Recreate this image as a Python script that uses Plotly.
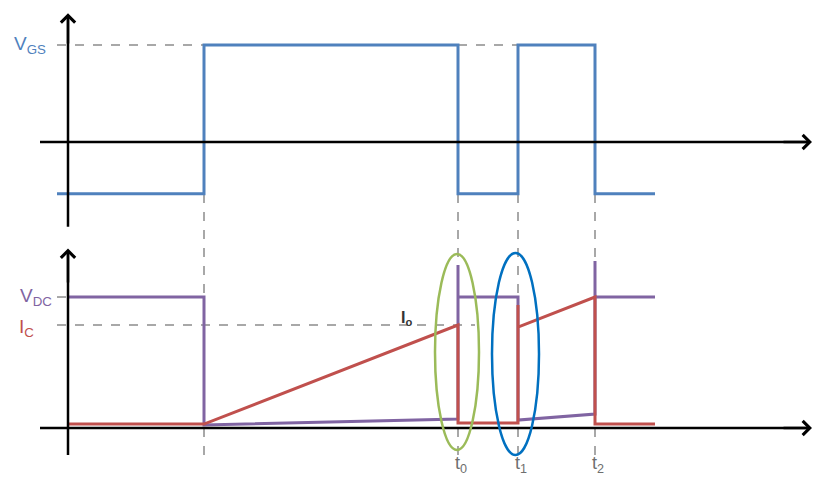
import plotly.graph_objects as go

# time in arbitrary units (0 = vertical axis)
t_start = -0.11
t_on = 1.36
t0 = 3.90
t1 = 4.50
t2 = 5.27
t_end = 5.87
axis_left = -0.28
axis_right = 7.44

# gate voltage (V)
vgs_high = 15
vgs_low = -8
vgs_t = [t_start, t_on, t_on, t0, t0, t1, t1, t2, t2, t_end]
vgs_v = [vgs_low, vgs_low, vgs_high, vgs_high, vgs_low, vgs_low, vgs_high, vgs_high, vgs_low, vgs_low]

# collector-emitter voltage and collector current, per unit of V_DC
vdc = 1.0
io = 0.786
vce_t = [0, t_on, t_on, t0, t0, t0, t1, t1, t2, t2, t2, t_end]
vce_v = [vdc, vdc, 0.023, 0.069, 1.244, vdc, vdc, 0.061, 0.107, 1.275, vdc, vdc]
ic_t = [0, t_on, t0, t0, t1, t1, t1, t2, t2, t_end]
ic_v = [0.03, 0.03, io, 0.038, 0.038, 0.94, 0.77, vdc, 0.03, 0.03]

time_marks = [t_on, t0, t1, t2]
time_labels = ["", "t<sub>0</sub>", "t<sub>1</sub>", "t<sub>2</sub>"]

BLUE = "#4F81BD"
PURPLE = "#8064A2"
RED = "#C0504D"
GREY = "#8C8C8C"

fig = go.Figure()

fig.add_trace(go.Scatter(x=vgs_t, y=vgs_v, mode="lines", yaxis="y",
                         line=dict(color=BLUE, width=3)))
fig.add_trace(go.Scatter(x=vce_t, y=vce_v, mode="lines", yaxis="y2",
                         line=dict(color=PURPLE, width=3)))
fig.add_trace(go.Scatter(x=ic_t, y=ic_v, mode="lines", yaxis="y2",
                         line=dict(color=RED, width=3)))

shapes = []
# dashed reference levels
dash = dict(color=GREY, width=1.5, dash="dash")
shapes.append(dict(type="line", xref="x", yref="y", x0=t_start, x1=t_on,
                   y0=vgs_high, y1=vgs_high, line=dash, layer="below"))
shapes.append(dict(type="line", xref="x", yref="y", x0=t0, x1=t1,
                   y0=vgs_high, y1=vgs_high, line=dash, layer="below"))
shapes.append(dict(type="line", xref="x", yref="y2", x0=t_start, x1=0,
                   y0=vdc, y1=vdc, line=dash, layer="below"))
shapes.append(dict(type="line", xref="x", yref="y2", x0=t_start, x1=t0 + 0.17,
                   y0=io, y1=io, line=dash, layer="below"))
for tm in time_marks:
    shapes.append(dict(type="line", xref="x", yref="paper", x0=tm, x1=tm,
                       y0=0.051, y1=0.609, line=dash, layer="below"))

# axes (arrowheads added as annotations below)
axis_style = dict(color="black", width=2.5)
shapes.append(dict(type="line", xref="x", yref="y", x0=axis_left, x1=axis_right - 0.03,
                   y0=0, y1=0, line=axis_style))
shapes.append(dict(type="line", xref="x", yref="y", x0=0, x1=0,
                   y0=-13.1, y1=19.6, line=axis_style))
shapes.append(dict(type="line", xref="x", yref="y2", x0=axis_left, x1=axis_right - 0.03,
                   y0=0, y1=0, line=axis_style))
shapes.append(dict(type="line", xref="x", yref="y2", x0=0, x1=0,
                   y0=-0.206, y1=1.35, line=axis_style))

# highlight ellipses
shapes.append(dict(type="circle", xref="x", yref="y2", x0=3.67, x1=4.11,
                   y0=-0.168, y1=1.328, line=dict(color="#9BBB59", width=2.5)))
shapes.append(dict(type="circle", xref="x", yref="y2", x0=4.24, x1=4.71,
                   y0=-0.206, y1=1.336, line=dict(color="#0070C0", width=2.5)))

annotations = []
ax_line = dict(showarrow=True, arrowhead=4, arrowsize=1.1, arrowwidth=2.5,
               arrowcolor="black", text="", xref="x", axref="x")
annotations.append(dict(ax_line, yref="y", ayref="y", x=axis_right, y=0,
                        ax=axis_right - 0.3, ay=0))
annotations.append(dict(ax_line, yref="y", ayref="y", x=0, y=19.9,
                        ax=0, ay=15))
annotations.append(dict(ax_line, yref="y2", ayref="y2", x=axis_right, y=0,
                        ax=axis_right - 0.3, ay=0))
annotations.append(dict(ax_line, yref="y2", ayref="y2", x=0, y=1.37,
                        ax=0, ay=1.1))

font = "Liberation Sans"
annotations.append(dict(text="V<sub>GS</sub>", x=-0.38, y=vgs_high, xref="x", yref="y",
                        showarrow=False, font=dict(family=font, size=19, color=BLUE)))
annotations.append(dict(text="V<sub>DC</sub>", x=-0.32, y=vdc, xref="x", yref="y2",
                        showarrow=False, font=dict(family=font, size=19, color=PURPLE)))
annotations.append(dict(text="I<sub>C</sub>", x=-0.42, y=io - 0.02, xref="x", yref="y2",
                        showarrow=False, font=dict(family=font, size=19, color=RED)))
annotations.append(dict(text="<b>I<sub>o</sub></b>", x=3.38, y=io + 0.05, xref="x", yref="y2",
                        showarrow=False, font=dict(family=font, size=16, color="#333333")))
for tm, lab in zip(time_marks, time_labels):
    if lab:
        annotations.append(dict(text=lab, x=tm + 0.03, y=-0.275, xref="x", yref="y2",
                                showarrow=False,
                                font=dict(family=font, size=18, color="#6E6E6E")))
for yr in ["y", "y2"]:
    annotations.append(dict(text="t", x=7.66, y=0, xref="x", yref=yr, xanchor="left",
                            showarrow=False, font=dict(family=font, size=16, color="#A0702A")))

# the page adds an 8 px margin, so the figure is 8 px smaller than the window
fig.update_layout(
    width=831, height=471,
    margin=dict(l=0, r=0, t=0, b=0),
    paper_bgcolor="white", plot_bgcolor="white",
    showlegend=False,
    xaxis=dict(range=[-0.60, 7.71], visible=False),
    yaxis=dict(domain=[0.5085, 1], range=[-15.07, 20.71], visible=False),
    yaxis2=dict(domain=[0, 0.5085], range=[-0.389, 1.439], visible=False),
    shapes=shapes,
    annotations=annotations,
)

fig.write_html("out.html")
